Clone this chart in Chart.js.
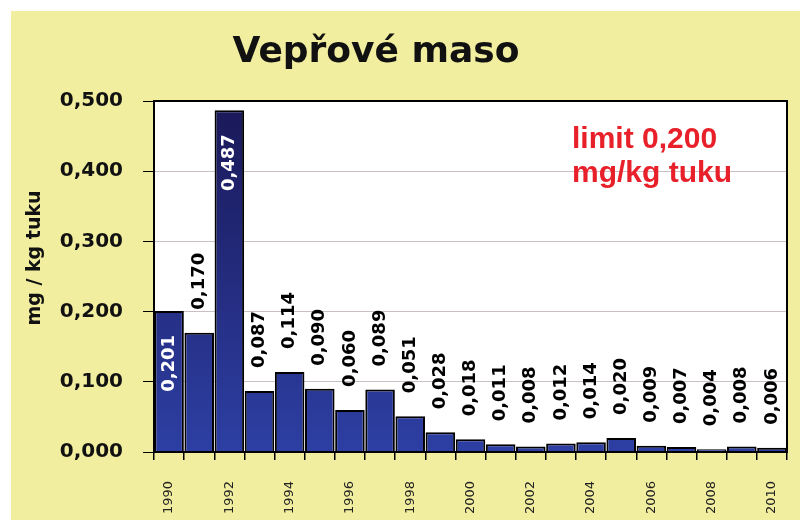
<!DOCTYPE html>
<html>
<head>
<meta charset="utf-8">
<script src="https://cdn.jsdelivr.net/npm/chart.js@4.4.1/dist/chart.umd.min.js"></script>
<style>
  html, body { margin: 0; padding: 0; background: #fff; }
  #wrap { position: relative; width: 800px; height: 520px; }
  #paper { position: absolute; left: 11px; top: 11px; right: 0; bottom: 0; background: #f2ee9f; }
  #chart { position: absolute; left: 0; top: 0; }
</style>
</head>
<body>
<div id="wrap">
  <div id="paper"></div>
  <canvas id="chart" width="800" height="520"></canvas>
</div>
<script>
// Data
const years = ["1990", "1991", "1992", "1993", "1994", "1995", "1996", "1997", "1998", "1999", "2000",
               "2001", "2002", "2003", "2004", "2005", "2006", "2007", "2008", "2009", "2010"];
const values = [0.201, 0.170, 0.487, 0.087, 0.114, 0.090, 0.060, 0.089, 0.051, 0.028, 0.018,
                0.011, 0.008, 0.012, 0.014, 0.020, 0.009, 0.007, 0.004, 0.008, 0.006];
const yTicks = [0, 0.1, 0.2, 0.3, 0.4, 0.5];

const chartTitle = "Vepřové maso";
const yTitle = "mg / kg tuku";
const limitText = ["limit 0,200", "mg/kg tuku"];

// hodnota s desetinnou čárkou
function fmt(v) {
    return v.toFixed(3).replace(".", ",");
}

// bílé pozadí grafu + rámeček
const plotArea = {
    id: "plotArea",
    beforeDraw(chart) {
        const { ctx, chartArea: a } = chart;
        ctx.save();
        ctx.fillStyle = "#ffffff";
        ctx.fillRect(a.left, a.top, a.right - a.left, a.bottom - a.top);
        ctx.restore();
    },
    afterDraw(chart) {
        const { ctx, chartArea: a } = chart;
        ctx.save();
        ctx.strokeStyle = "#000";
        ctx.lineWidth = 2;
        ctx.strokeRect(a.left, a.top, a.right - a.left, a.bottom - a.top);
        ctx.restore();
    }
};

// popisky hodnot nad sloupci (svisle)
const barLabels = {
    id: "barLabels",
    afterDatasetsDraw(chart) {
        const ctx = chart.ctx;
        const meta = chart.getDatasetMeta(0);
        ctx.save();
        ctx.font = "bold 18px 'DejaVu Sans'";
        ctx.textBaseline = "middle";
        meta.data.forEach((bar, i) => {
            const v = values[i];
            ctx.save();
            ctx.translate(bar.x, bar.y);
            ctx.rotate(-Math.PI / 2);
            if (v >= 0.2) {
                ctx.fillStyle = "#ffffff";
                ctx.textAlign = "right";
                ctx.fillText(fmt(v), -24, 0);
            } else {
                ctx.fillStyle = "#000000";
                ctx.textAlign = "left";
                ctx.fillText(fmt(v), 23, 0);
            }
            ctx.restore();
        });
        ctx.restore();
    }
};

// nadpis, popis osy Y a limit
const texts = {
    id: "texts",
    afterDraw(chart) {
        const ctx = chart.ctx;
        ctx.save();
        ctx.fillStyle = "#111";
        ctx.font = "bold 36px 'DejaVu Sans'";
        ctx.textAlign = "center";
        ctx.textBaseline = "alphabetic";
        ctx.fillText(chartTitle, 376, 62);

        ctx.save();
        ctx.translate(35, 258);
        ctx.rotate(-Math.PI / 2);
        ctx.font = "bold 19px 'DejaVu Sans'";
        ctx.textBaseline = "middle";
        ctx.fillText(yTitle, 0, 0);
        ctx.restore();

        ctx.fillStyle = "#e8202a";
        ctx.font = "bold 30px 'Liberation Sans'";
        ctx.textAlign = "left";
        ctx.fillText(limitText[0], 572, 148);
        ctx.fillText(limitText[1], 572, 182);
        ctx.restore();
    }
};

const ctx = document.getElementById("chart").getContext("2d");

new Chart(ctx, {
    type: "bar",
    data: {
        labels: years,
        datasets: [{
            data: values,
            backgroundColor: (c) => {
                const a = c.chart.chartArea;
                if (!a) return "#232a80";
                const g = c.chart.ctx.createLinearGradient(0, a.top, 0, a.bottom);
                g.addColorStop(0, "#1a1858");
                g.addColorStop(1, "#2d3fa3");
                return g;
            },
            borderColor: "#000000",
            borderWidth: 2,
            barPercentage: 0.98,
            categoryPercentage: 1
        }]
    },
    options: {
        responsive: false,
        animation: false,
        layout: { padding: { left: 0, right: 13, top: 101, bottom: 0 } },
        plugins: {
            legend: { display: false },
            tooltip: { enabled: false }
        },
        scales: {
            x: {
                afterFit: (s) => { s.height = 68; s.paddingLeft = 0; s.paddingRight = 0; },
                grid: { offset: true, drawOnChartArea: false, tickLength: 8, tickColor: "#000", lineWidth: 1.5 },
                border: { color: "#000", width: 2 },
                ticks: {
                    autoSkip: false,
                    minRotation: 90,
                    maxRotation: 90,
                    padding: 21,
                    color: "#222",
                    font: { family: "'DejaVu Sans'", size: 13 },
                    callback: (val, i) => (i % 2 === 0 ? years[i] : "")
                }
            },
            y: {
                min: 0,
                max: 0.5,
                afterFit: (s) => { s.width = 154; },
                afterBuildTicks: (s) => { s.ticks = yTicks.map(v => ({ value: v })); },
                grid: { color: "#c9c0c0", tickColor: "#000", tickLength: 11, lineWidth: 1 },
                border: { color: "#000", width: 2 },
                ticks: {
                    padding: 20,
                    color: "#111",
                    font: { family: "'DejaVu Sans'", size: 20, weight: "bold" },
                    callback: (v) => fmt(v)
                }
            }
        }
    },
    plugins: [plotArea, barLabels, texts]
});
</script>
</body>
</html>
